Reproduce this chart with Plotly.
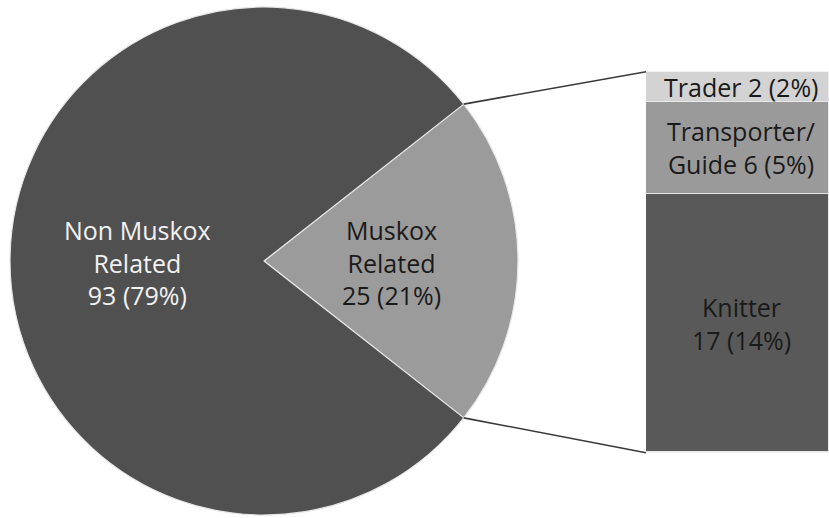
import math
import plotly.graph_objects as go

# ---- data ----
pie_labels = ["Muskox<br>Related", "Non Muskox<br>Related"]
pie_values = [25, 93]
pie_colors = ["#9b9b9b", "#505050"]
pie_text_colors = ["#1a1a1a", "#f2f2f2"]
pie_pct = [21, 79]

bar_labels = ["Knitter", "Transporter/<br>Guide", "Trader"]
bar_values = [17, 6, 2]
bar_pct = [14, 5, 2]
bar_colors = ["#595959", "#9a9a9a", "#d3d3d3"]
bar_text_fmt = ["{l}<br>{v} ({p}%)", "{l} {v} ({p}%)", "{l} {v} ({p}%)"]

W, H = 829, 518
FONT = "Open Sans"
FS = 25

# ---- layout geometry (pixels) ----
pie_x0, pie_x1, pie_y0, pie_y1 = 10, 518, 7, 515
bar_x0, bar_x1, bar_y0, bar_y1 = 646, 829, 71.7, 452.7

def px(x):
    return x / W

def py(y):
    return 1 - y / H

total = sum(pie_values)
half_angle = pie_values[0] / total * 360 / 2

fig = go.Figure()
fig.add_trace(go.Pie(
    labels=[l.replace("<br>", " ") for l in pie_labels],
    values=pie_values,
    sort=False,
    direction="clockwise",
    rotation=90 - half_angle,
    marker=dict(colors=pie_colors, line=dict(color="#e6e6e6", width=1.2)),
    textinfo="none",
    hoverinfo="label+value+percent",
    showlegend=False,
    domain=dict(x=[px(pie_x0), px(pie_x1)], y=[py(pie_y1), py(pie_y0)]),
))

for lab, val, col in zip(bar_labels, bar_values, bar_colors):
    fig.add_trace(go.Bar(
        x=[0], y=[val], name=lab.replace("<br>", " "),
        marker=dict(color=col, line=dict(color="#e8e8e8", width=1.2)),
        width=1, showlegend=False, hoverinfo="name+y",
    ))

fig.update_layout(
    width=W, height=H,
    margin=dict(l=0, r=0, t=0, b=0),
    paper_bgcolor="white", plot_bgcolor="white",
    barmode="stack", bargap=0,
    xaxis=dict(domain=[px(bar_x0), px(bar_x1)], range=[-0.5, 0.5], visible=False, fixedrange=True),
    yaxis=dict(domain=[py(bar_y1), py(bar_y0)], range=[0, sum(bar_values)], visible=False, fixedrange=True),
    font=dict(family=FONT, size=FS),
)

# pie labels
cx = (pie_x0 + pie_x1) / 2
cy = (pie_y0 + pie_y1) / 2
r = (pie_x1 - pie_x0) / 2
label_pos = [(391, 262), (137, 262)]
for lab, val, pct, tc, (lx, ly) in zip(pie_labels, pie_values, pie_pct, pie_text_colors, label_pos):
    fig.add_annotation(
        x=px(lx), y=py(ly), xref="paper", yref="paper",
        text=f"{lab}<br>{val} ({pct}%)", showarrow=False,
        font=dict(family=FONT, size=FS, color=tc), align="center",
        xanchor="center", yanchor="middle",
    )

# bar labels
cum = 0
for lab, val, pct, fmt in zip(bar_labels, bar_values, bar_pct, bar_text_fmt):
    mid = cum + val / 2
    cum += val
    fig.add_annotation(
        x=0.02, y=mid, xref="x", yref="y",
        text=fmt.format(l=lab, v=val, p=pct), showarrow=False,
        font=dict(family=FONT, size=FS, color="#1a1a1a"), align="center",
        xanchor="center", yanchor="middle",
    )

# connector lines from slice edges to bar corners
a = math.radians(half_angle)
ex = cx + r * math.cos(a)
ey_top = cy - r * math.sin(a)
ey_bot = cy + r * math.sin(a)
for ey, by in [(ey_top, bar_y0), (ey_bot, bar_y1)]:
    fig.add_shape(type="line", xref="paper", yref="paper",
                  x0=px(ex), y0=py(ey), x1=px(bar_x0), y1=py(by),
                  line=dict(color="#3a3a3a", width=1.6))

fig.write_html("out.html")
